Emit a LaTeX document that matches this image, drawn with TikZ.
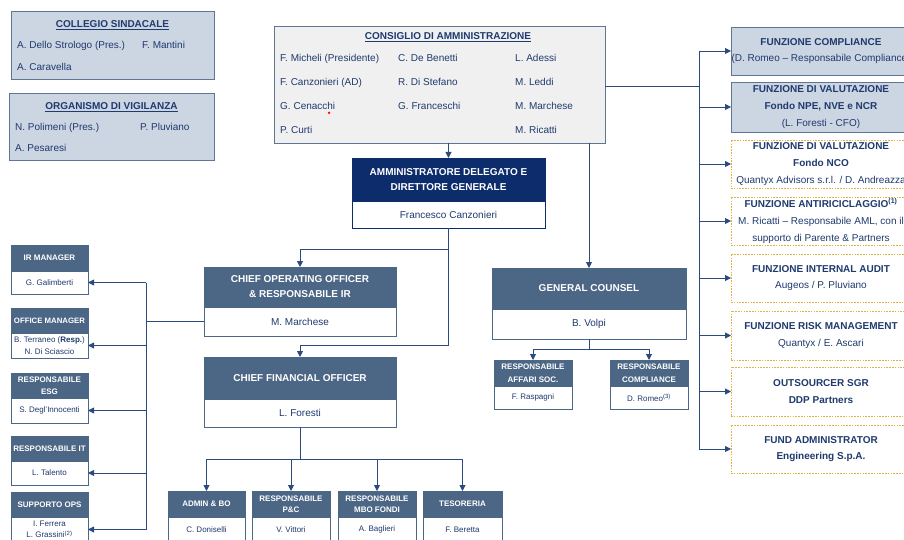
\documentclass[tikz,border=0pt]{standalone}
\usepackage{fontspec}
\setmainfont{Liberation Sans}
\usetikzlibrary{arrows.meta,calc}
\definecolor{navy}{HTML}{1F3A6E}
\definecolor{slate}{HTML}{4C6685}
\definecolor{darknavy}{HTML}{0D2C6C}
\definecolor{lightbg}{HTML}{CCD5E2}
\definecolor{lightbd}{HTML}{5F7594}
\definecolor{cdabg}{HTML}{F0F0F0}
\definecolor{gold}{HTML}{E3B341}
\definecolor{lnc}{HTML}{2B4A7E}
\begin{document}
\begin{tikzpicture}[x=1pt,y=-1pt,
  box/.style={draw, inner sep=0pt, outer sep=0pt, anchor=north west, line width=0.8pt},
  lightbox/.style={box, fill=lightbg, draw=lightbd},
  cdabox/.style={box, fill=cdabg, draw=lightbd},
  hdr/.style={box, fill=slate, draw=slate, text=white, font=\bfseries\fontsize{8}{12.5}\selectfont, align=center},
  hdrs/.style={hdr, font=\bfseries\fontsize{8}{11}\selectfont},
  hdrbig/.style={hdr, font=\bfseries\fontsize{10}{15}\selectfont},
  body/.style={box, fill=white, draw=slate, text=navy, font=\fontsize{8}{11.5}\selectfont, align=center},
  bodybig/.style={body, font=\fontsize{10}{12}\selectfont},
  fnbox/.style={box, text=navy, font=\fontsize{10}{16.8}\selectfont, align=center},
  fnsolid/.style={fnbox, fill=lightbg, draw=lightbd},
  fndot/.style={fnbox, fill=white, draw=gold, line width=0.9pt, dash pattern=on 1.6pt off 1.2pt},
  t/.style={text=navy, font=\fontsize{10}{12}\selectfont, inner sep=0pt, anchor=base west},
  tt/.style={text=navy, font=\bfseries\fontsize{10}{12}\selectfont, inner sep=0pt, anchor=base},
  ln/.style={draw=lnc, line width=0.9pt},
  arr/.style={ln, -{Triangle[length=6pt,width=6pt]}}]
\useasboundingbox (0,0) rectangle (904,540);
\clip (0,0) rectangle (904,540);

% Collegio sindacale
\node[lightbox, minimum width=203pt, minimum height=68pt] (cs) at (11,11) {};
\node[tt] (cst) at (112.5,27.5) {\underline{COLLEGIO SINDACALE}};
\node[t] (cs1) at (17,48.5) {A. Dello Strologo (Pres.)};
\node[t] (cs2) at (142,48.5) {F. Mantini};
\node[t] (cs3) at (17,71) {A. Caravella};

% Organismo di vigilanza
\node[lightbox, minimum width=205pt, minimum height=67pt] (odv) at (9,93) {};
\node[tt] (odvt) at (111.5,109.5) {\underline{ORGANISMO DI VIGILANZA}};
\node[t] (odv1) at (15,130.5) {N. Polimeni (Pres.)};
\node[t] (odv2) at (140,130.5) {P. Pluviano};
\node[t] (odv3) at (15,152) {A. Pesaresi};

% Consiglio di amministrazione
\node[cdabox, minimum width=331pt, minimum height=117pt] (cda) at (274,26) {};
\node[tt] (cdat) at (448,40) {\underline{CONSIGLIO DI AMMINISTRAZIONE}};
\node[t] (c11) at (280,62) {F. Micheli (Presidente)};
\node[t] (c12) at (398,62) {C. De Benetti};
\node[t] (c13) at (515,62) {L. Adessi};
\node[t] (c21) at (280,86) {F. Canzonieri (AD)};
\node[t] (c22) at (398,86) {R. Di Stefano};
\node[t] (c23) at (515,86) {M. Leddi};
\node[t] (c31) at (280,110) {G. Cenacchi};
\node[t] (c32) at (398,110) {G. Franceschi};
\node[t] (c33) at (515,110) {M. Marchese};
\node[t] (c41) at (280,134) {P. Curti};
\node[t] (c43) at (515,134) {M. Ricatti};
\fill[red] (329,112.8) circle (1.3pt);

% AD
\node[hdrbig, fill=darknavy, draw=darknavy, minimum width=193pt, minimum height=43pt] (adh) at (352,158) {AMMINISTRATORE DELEGATO E\\DIRETTORE GENERALE};
\node[bodybig, draw=darknavy, minimum width=193pt, minimum height=27pt] (adb) at (352,201) {Francesco Canzonieri};

% COO
\node[hdrbig, minimum width=192pt, minimum height=40pt] (cooh) at (204,267) {CHIEF OPERATING OFFICER\\\& RESPONSABILE IR};
\node[bodybig, minimum width=192pt, minimum height=29pt] (coob) at (204,307) {M. Marchese};

% CFO
\node[hdrbig, minimum width=192pt, minimum height=42pt] (cfoh) at (204,357) {CHIEF FINANCIAL OFFICER};
\node[bodybig, minimum width=192pt, minimum height=28pt] (cfob) at (204,399) {L. Foresti};

% General counsel
\node[hdrbig, minimum width=194pt, minimum height=41pt] (gch) at (492,268) {GENERAL COUNSEL};
\node[bodybig, minimum width=194pt, minimum height=30pt] (gcb) at (492,309) {B. Volpi};

% GC sub boxes
\node[hdr, minimum width=78pt, minimum height=26pt] (afh) at (494,360) {RESPONSABILE\\AFFARI SOC.};
\node[body, minimum width=78pt, minimum height=23pt] (afb) at (494,386) {F. Raspagni};
\node[hdr, minimum width=78pt, minimum height=26pt] (rch) at (610,360) {RESPONSABILE\\COMPLIANCE};
\node[body, minimum width=78pt, minimum height=23pt] (rcb) at (610,386) {D. Romeo\textsuperscript{(3)}};

% Left column
\node[hdr, minimum width=77pt, minimum height=26pt] (irh) at (11,245) {IR MANAGER};
\node[body, minimum width=77pt, minimum height=23pt] (irb) at (11,271) {G. Galimberti};
\node[hdr, font=\bfseries\fontsize{7.8}{12}\selectfont, minimum width=77pt, minimum height=25pt] (omh) at (11,308) {OFFICE MANAGER};
\node[body, minimum width=77pt, minimum height=25pt] (omb) at (11,333) {B. Terraneo (\textbf{Resp.})\\N. Di Sciascio};
\node[hdr, minimum width=77pt, minimum height=25pt] (esgh) at (11,373) {RESPONSABILE\\ESG};
\node[body, minimum width=77pt, minimum height=25pt] (esgb) at (11,398) {S. Degl'Innocenti};
\node[hdr, minimum width=77pt, minimum height=25pt] (ith) at (11,436) {RESPONSABILE IT};
\node[body, minimum width=77pt, minimum height=24pt] (itb) at (11,461) {L. Talento};
\node[hdr, minimum width=77pt, minimum height=25pt] (opsh) at (11,492) {SUPPORTO OPS};
\node[body, minimum width=77pt, minimum height=25pt] (opsb) at (11,517) {I. Ferrera\\L. Grassini\textsuperscript{(2)}};

% Bottom row
\node[hdrs, minimum width=77pt, minimum height=26pt] (admh) at (168,491) {ADMIN \& BO};
\node[body, minimum width=77pt, minimum height=25pt] (admb) at (168,517) {C. Doniselli};
\node[hdrs, minimum width=78pt, minimum height=26pt] (pch) at (252,491) {RESPONSABILE\\P\&C};
\node[body, minimum width=78pt, minimum height=25pt] (pcb) at (252,517) {V. Vittori};
\node[hdrs, minimum width=78pt, minimum height=26pt] (mboh) at (338,491) {RESPONSABILE\\MBO FONDI};
\node[body, minimum width=78pt, minimum height=25pt] (mbob) at (338,517) {A. Baglieri};
\node[hdrs, minimum width=79pt, minimum height=26pt] (tesh) at (423,491) {TESORERIA};
\node[body, minimum width=79pt, minimum height=25pt] (tesb) at (423,517) {F. Beretta};

% Right column
\node[fnsolid, minimum width=180pt, minimum height=48pt] (comp) at (731,27) {\textbf{FUNZIONE COMPLIANCE}\\(D. Romeo – Responsabile Compliance)};
\node[fnsolid, minimum width=180pt, minimum height=50pt] (npe) at (731,82) {\textbf{FUNZIONE DI VALUTAZIONE}\\\textbf{Fondo NPE, NVE e NCR}\\(L. Foresti - CFO)};
\node[fndot, minimum width=180pt, minimum height=48pt] (nco) at (731,140) {\textbf{FUNZIONE DI VALUTAZIONE}\\\textbf{Fondo NCO}\\Quantyx Advisors s.r.l. / D. Andreazza};
\node[fndot, minimum width=180pt, minimum height=48pt] (aml) at (731,197) {\textbf{FUNZIONE ANTIRICICLAGGIO\textsuperscript{(1)}}\\M. Ricatti – Responsabile AML, con il\\supporto di Parente \& Partners};
\node[fndot, minimum width=180pt, minimum height=48pt] (ia) at (731,254) {\textbf{FUNZIONE INTERNAL AUDIT}\\Augeos / P. Pluviano};
\node[fndot, minimum width=180pt, minimum height=49pt] (risk) at (731,311) {\textbf{FUNZIONE RISK MANAGEMENT}\\Quantyx / E. Ascari};
\node[fndot, minimum width=180pt, minimum height=49pt] (outs) at (731,367) {\textbf{OUTSOURCER SGR}\\\textbf{DDP Partners}};
\node[fndot, minimum width=180pt, minimum height=48pt] (fa) at (731,425) {\textbf{FUND ADMINISTRATOR}\\\textbf{Engineering S.p.A.}};

% Connectors
\draw[arr] (cda.south -| adh.north) -- (adh.north);
\draw[arr] (cda.south -| gch.north) -- (gch.north);
\coordinate (rx) at (699,0);
\coordinate (cdaj) at ($(cda.east)+(0,2)$);
\draw[ln] (cdaj) -- (cdaj -| rx);
\draw[ln] (comp.west -| rx) -- (fa.west -| rx);
\foreach \n in {comp,npe,nco,aml,ia,risk,outs,fa} \draw[arr] (\n.west -| rx) -- (\n.west);

\coordinate (j1) at (448.5,249);
\coordinate (j2) at (448.5,345);
\draw[arr] (adb.south) -- (j1) -| (cooh.north);
\draw[arr] (j1) -- (j2) -| (cfoh.north);

\coordinate (lx) at (146,0);
\draw[ln] (coob.west) -- (coob.west -| lx);
\draw[ln] (irb.east -| lx) -- (opsb.east -| lx);
\foreach \n in {irb,omb,esgb,itb,opsb} \draw[arr] (\n.east -| lx) -- (\n.east);

\coordinate (j3) at (300,459);
\draw[ln] (cfob.south) -- (j3);
\draw[ln] (j3 -| admh.north) -- (j3 -| tesh.north);
\foreach \n in {admh,pch,mboh,tesh} \draw[arr] (j3 -| \n.north) -- (\n.north);

\coordinate (j4) at (589,349);
\draw[ln] (gcb.south) -- (j4);
\draw[ln] (j4 -| afh.north) -- (j4 -| rch.north);
\foreach \n in {afh,rch} \draw[arr] (j4 -| \n.north) -- (\n.north);
\end{tikzpicture}
\end{document}
